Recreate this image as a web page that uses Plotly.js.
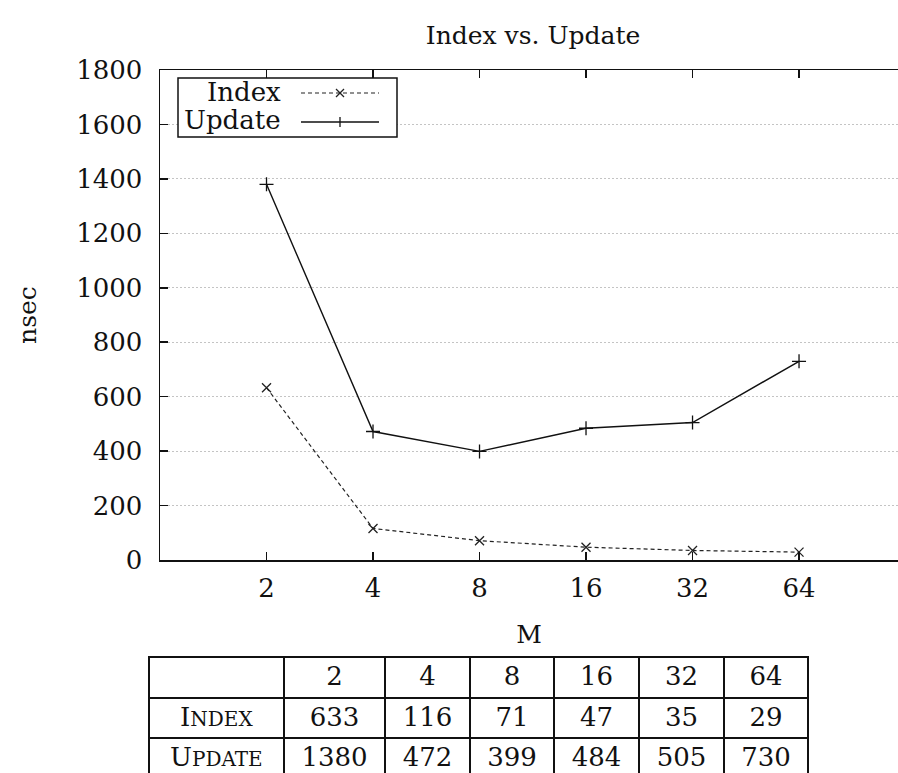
<!DOCTYPE html>
<html>
<head>
<meta charset="utf-8">
<script src="https://cdn.plot.ly/plotly-3.0.1.min.js"></script>
<style>
html, body { margin: 0; padding: 0; overflow: hidden; background: #fff; }
#chart { width: 898px; height: 800px; }
</style>
</head>
<body>
<div id="chart"></div>
<script>
// ---- data ----
const mValues = [2, 4, 8, 16, 32, 64];
const indexNs = [633, 116, 71, 47, 35, 29];
const updateNs = [1380, 472, 399, 484, 505, 730];
const seriesNames = ["Index", "Update"];
const yTickValues = [0, 200, 400, 600, 800, 1000, 1200, 1400, 1600, 1800];

// ---- styling helpers ----
const FONT = "DejaVu Serif";
const FS = 25;
const TFS = 26;
const W = 898, H = 800;
const M = { l: 100, r: 0, t: 50, b: 10 };
const plotL = 160, plotR = 898, plotT = 70, plotB = 560;
const paperW = W - M.l - M.r, paperH = H - M.t - M.b;
const dx = px => (px - plotL) / (plotR - plotL);
const dy = py => (plotB - py) / (plotB - plotT);
const pxX = px => (px - M.l) / paperW;
const pxY = py => (H - M.b - py) / paperH;
const INK = "#111";

// small caps label text (first letter full size, rest smaller capitals)
const smallCaps = s => s[0].toUpperCase() + '<span style="font-size:20px">' + s.slice(1).toUpperCase() + '</span>';

const traces = [
  {
    type: "scatter", mode: "lines+markers", name: seriesNames[0],
    x: mValues, y: indexNs,
    line: { color: "#222", width: 1.2, dash: "4px,3px" },
    marker: { symbol: "x-thin", size: 9, line: { color: "#222", width: 1.3 } },
    xaxis: "x", yaxis: "y", showlegend: false, hoverinfo: "skip"
  },
  {
    type: "scatter", mode: "lines+markers", name: seriesNames[1],
    x: mValues, y: updateNs,
    line: { color: INK, width: 1.4 },
    marker: { symbol: "cross-thin", size: 10, line: { color: INK, width: 1.3 } },
    xaxis: "x", yaxis: "y", showlegend: false, hoverinfo: "skip"
  },
  {
    type: "table",
    domain: { x: [pxX(149), pxX(808)], y: [0, pxY(657)] },
    columnwidth: [135, 101, 85, 84, 85, 85, 84],
    header: {
      values: [""].concat(mValues.map(String)),
      height: 41, align: "center",
      line: { color: INK, width: 1.5 },
      fill: { color: "white" },
      font: { family: FONT, size: TFS, color: INK }
    },
    cells: {
      // row-label column is left blank here and labelled with small-caps text below
      values: [seriesNames.map(() => "")].concat(mValues.map((m, i) => [String(indexNs[i]), String(updateNs[i])])),
      height: 40, align: "center",
      line: { color: INK, width: 1.5 },
      fill: { color: "white" },
      font: { family: FONT, size: TFS, color: INK }
    }
  }
];

// legend drawn as decoration (text left, sample right like the reference)
const lx0 = 301, lx1 = 379, lmx = 340, ms = 4;
const ly = [93, 122];
const shapes = [
  { type: "rect", xref: "x domain", yref: "y domain", x0: dx(178), x1: dx(397), y0: dy(137), y1: dy(78),
    line: { color: INK, width: 1.5 }, fillcolor: "white", layer: "above" },
  { type: "line", xref: "x domain", yref: "y domain", x0: dx(lx0), x1: dx(lx1), y0: dy(ly[0]), y1: dy(ly[0]),
    line: { color: "#222", width: 1.2, dash: "4px,3px" } },
  { type: "line", xref: "x domain", yref: "y domain", x0: dx(lmx - ms), x1: dx(lmx + ms), y0: dy(ly[0] - ms), y1: dy(ly[0] + ms),
    line: { color: "#222", width: 1.3 } },
  { type: "line", xref: "x domain", yref: "y domain", x0: dx(lmx - ms), x1: dx(lmx + ms), y0: dy(ly[0] + ms), y1: dy(ly[0] - ms),
    line: { color: "#222", width: 1.3 } },
  { type: "line", xref: "x domain", yref: "y domain", x0: dx(lx0), x1: dx(lx1), y0: dy(ly[1]), y1: dy(ly[1]),
    line: { color: INK, width: 1.4 } },
  { type: "line", xref: "x domain", yref: "y domain", x0: dx(lmx), x1: dx(lmx), y0: dy(ly[1] - 5), y1: dy(ly[1] + 5),
    line: { color: INK, width: 1.3 } }
];
const annotations = [
  { xref: "x domain", yref: "y domain", x: dx(283), y: dy(92), xanchor: "right", yanchor: "middle",
    text: seriesNames[0], showarrow: false, font: { family: FONT, size: 26, color: INK } },
  { xref: "x domain", yref: "y domain", x: dx(283), y: dy(120), xanchor: "right", yanchor: "middle",
    text: seriesNames[1], showarrow: false, font: { family: FONT, size: 26, color: INK } }
].concat(seriesNames.map((name, i) => ({
  xref: "paper", yref: "paper", x: pxX(216.5), y: pxY(717 + 40 * i), xanchor: "center", yanchor: "middle",
  text: smallCaps(name), showarrow: false, font: { family: FONT, size: TFS, color: INK }
})));

const layout = {
  width: W, height: H,
  margin: M,
  paper_bgcolor: "white", plot_bgcolor: "white",
  font: { family: FONT, size: FS, color: INK },
  showlegend: false,
  title: {
    text: "Index vs. Update",
    font: { family: FONT, size: FS, color: INK },
    xref: "paper", x: pxX(533), xanchor: "center",
    yref: "container", y: 1 - 35 / H, yanchor: "middle"
  },
  xaxis: {
    type: "log",
    domain: [pxX(plotL), 1],
    range: [0, 2.0859],
    tickvals: mValues, ticktext: mValues.map(String),
    ticks: "inside", ticklen: 8, tickwidth: 1.5, tickcolor: INK,
    showline: true, linecolor: INK, linewidth: 1.5, mirror: "ticks",
    showgrid: false, zeroline: false,
    ticklabelstandoff: 4,
    tickfont: { family: FONT, size: 26, color: INK },
    title: { text: "M", standoff: 24, font: { family: FONT, size: FS, color: INK } },
    automargin: false, fixedrange: true
  },
  yaxis: {
    domain: [pxY(plotB), pxY(plotT)],
    range: [0, 1800],
    tickvals: yTickValues,
    ticks: "inside", ticklen: 8, tickwidth: 1.5, tickcolor: INK,
    showline: true, linecolor: INK, linewidth: 1.5, mirror: false,
    showgrid: true, gridcolor: "#c4c4c4", gridwidth: 1, griddash: "2px,2px",
    zeroline: false,
    ticklabelstandoff: 11,
    tickfont: { family: FONT, size: 26, color: INK },
    title: { text: "nsec", standoff: 32, font: { family: FONT, size: FS, color: INK } },
    automargin: false, fixedrange: true
  },
  shapes: shapes,
  annotations: annotations
};

Plotly.newPlot("chart", traces, layout, { displayModeBar: false, staticPlot: true });
</script>
</body>
</html>
